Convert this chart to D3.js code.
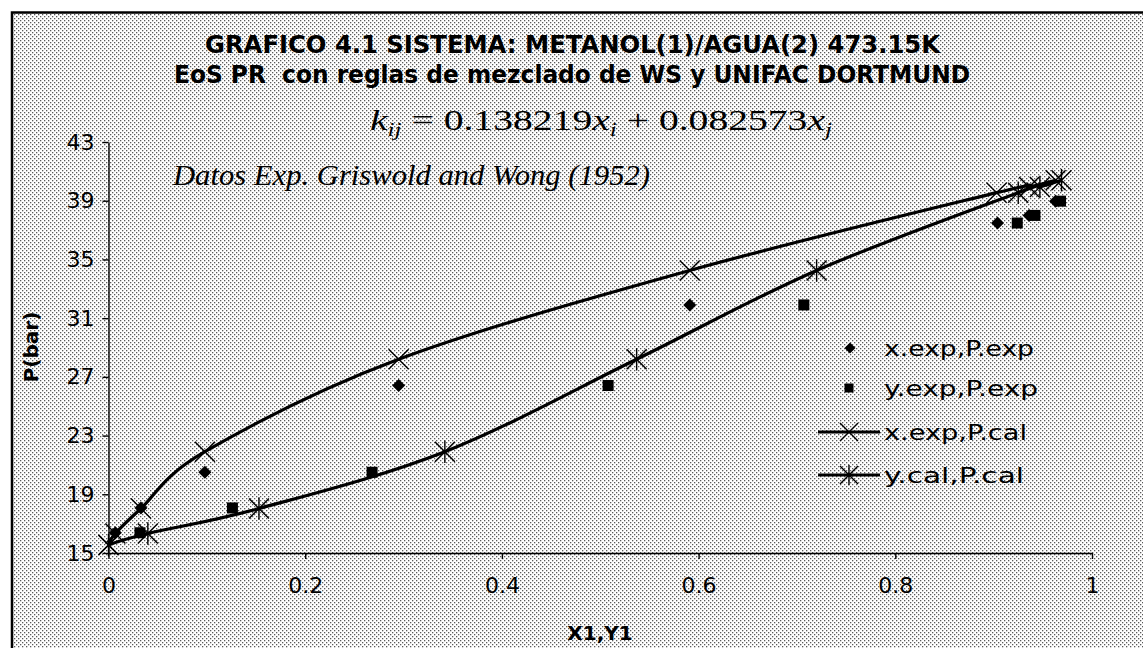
<!DOCTYPE html>
<html>
<head>
<meta charset="utf-8">
<script src="https://cdn.jsdelivr.net/npm/d3@7"></script>
<style>
  body { margin: 0; background: #fff; }
  svg text { fill: #000; white-space: pre; }
</style>
</head>
<body>
<svg id="chart" width="1143" height="648"></svg>
<script>
// Experimental points (Griswold and Wong, 1952)
const xExp = [0.007, 0.033, 0.098, 0.295, 0.591, 0.904, 0.936, 0.963];
const yExp = [0.032, 0.126, 0.268, 0.508, 0.707, 0.924, 0.942, 0.968];
const pExp = [16.38, 18.07, 20.5, 26.41, 31.9, 37.48, 38.0, 38.97];

// Calculated bubble / dew curves (PR EoS + WS + UNIFAC Dortmund)
const xCalc = [0, 0.007, 0.033, 0.098, 0.295, 0.591, 0.903, 0.936, 0.963];
const yCalc = [0, 0.040, 0.153, 0.342, 0.537, 0.720, 0.925, 0.947, 0.969];
const pCalc = [15.55, 16.33, 18.03, 21.9, 28.2, 34.25, 39.55, 39.94, 40.39];

// Axis ticks
const pTicks = [15, 19, 23, 27, 31, 35, 39, 43];
const xTicks = [0, 0.2, 0.4, 0.6, 0.8, 1];

const legendNames = ["x.exp,P.exp", "y.exp,P.exp", "x.exp,P.cal", "y.cal,P.cal"];

const svg = d3.select("#chart");

// halftone-like dotted fill for the chart area
const defs = svg.append("defs");
const pat = defs.append("pattern")
  .attr("id", "dots").attr("patternUnits", "userSpaceOnUse")
  .attr("width", 4).attr("height", 4);
pat.append("rect").attr("width", 4).attr("height", 4).attr("fill", "#fff");
pat.append("rect").attr("x", 0).attr("y", 0).attr("width", 1.3).attr("height", 1.3).attr("fill", "#5a5a5a");
pat.append("rect").attr("x", 2).attr("y", 2).attr("width", 1.3).attr("height", 1.3).attr("fill", "#5a5a5a");

svg.append("rect")
  .attr("x", 12).attr("y", 12.5).attr("width", 1140).attr("height", 640)
  .attr("fill", "url(#dots)")
  .attr("stroke", "#000").attr("stroke-width", 2.5);

const x = d3.scaleLinear().domain([0, 1]).range([108.5, 1092]);
const y = d3.scaleLinear().domain([15, 43]).range([553, 142]);

// axes
const yAxis = d3.axisLeft(y).tickValues(pTicks).tickSize(6).tickSizeOuter(0).tickPadding(8);
const xAxis = d3.axisBottom(x).tickValues(xTicks).tickFormat(d3.format("~g"))
  .tickSize(6).tickSizeOuter(0).tickPadding(18);

const gy = svg.append("g").attr("transform", `translate(${x(0)},0)`).call(yAxis);
const gx = svg.append("g").attr("transform", `translate(0,${y(15)})`).call(xAxis);
[gx, gy].forEach(g => {
  g.selectAll("path,line").attr("stroke", "#000").attr("stroke-width", 1.4);
  g.selectAll("text").attr("font-family", "'DejaVu Sans', Verdana, sans-serif")
    .attr("font-size", 22).attr("fill", "#000");
});

// marker shapes
function diamond(g, cx, cy, r) {
  g.append("path").attr("d", `M${cx},${cy - r}L${cx + r},${cy}L${cx},${cy + r}L${cx - r},${cy}Z`)
    .attr("fill", "#000");
}
function square(g, cx, cy, s) {
  g.append("rect").attr("x", cx - s / 2).attr("y", cy - s / 2).attr("width", s).attr("height", s)
    .attr("fill", "#000");
}
function cross(g, cx, cy, r) {
  g.append("path").attr("d", `M${cx - r},${cy - r}L${cx + r},${cy + r}M${cx - r},${cy + r}L${cx + r},${cy - r}`)
    .attr("stroke", "#000").attr("stroke-width", 1.4).attr("fill", "none");
}
function star(g, cx, cy, r) {
  const d = r * 0.9;
  g.append("path").attr("d",
    `M${cx - r},${cy - r}L${cx + r},${cy + r}M${cx - r},${cy + r}L${cx + r},${cy - r}M${cx},${cy - d * 1.25}L${cx},${cy + d * 1.25}`)
    .attr("stroke", "#000").attr("stroke-width", 1.4).attr("fill", "none");
}

const plot = svg.append("g");

// experimental markers
xExp.forEach((v, i) => diamond(plot, x(v), y(pExp[i]), 6.5));
yExp.forEach((v, i) => square(plot, x(v), y(pExp[i]), 11));

// smoothed calculated curves
const line = d3.line().curve(d3.curveCatmullRom.alpha(0));
const liqPts = xCalc.map((v, i) => [x(v), y(pCalc[i])]);
const vapPts = yCalc.map((v, i) => [x(v), y(pCalc[i])]);

plot.append("path").attr("d", line(liqPts)).attr("fill", "none")
  .attr("stroke", "#000").attr("stroke-width", 3.2).attr("stroke-linejoin", "round");
liqPts.forEach(p => cross(plot, p[0], p[1], 10));

plot.append("path").attr("d", line(vapPts)).attr("fill", "none")
  .attr("stroke", "#000").attr("stroke-width", 3.2).attr("stroke-linejoin", "round");
vapPts.forEach(p => star(plot, p[0], p[1], 10));

// legend
const leg = svg.append("g");
const rows = [348, 388, 432, 475];
const legWidths = [150, 154, 143, 140];
diamond(leg, 850, rows[0], 5.5);
square(leg, 849, rows[1], 9);
leg.append("line").attr("x1", 818).attr("x2", 880).attr("y1", rows[2]).attr("y2", rows[2])
  .attr("stroke", "#000").attr("stroke-width", 3);
cross(leg, 849, rows[2], 9);
leg.append("line").attr("x1", 818).attr("x2", 880).attr("y1", rows[3]).attr("y2", rows[3])
  .attr("stroke", "#000").attr("stroke-width", 3);
star(leg, 849, rows[3], 9);
legendNames.forEach((t, i) => {
  leg.append("text").attr("x", 884).attr("y", rows[i] + 8)
    .attr("font-family", "'DejaVu Sans', Verdana, sans-serif").attr("font-size", 22)
    .attr("textLength", legWidths[i]).attr("lengthAdjust", "spacingAndGlyphs")
    .text(t);
});

// titles
const bold = "'DejaVu Sans', Verdana, sans-serif";
svg.append("text").attr("x", 205).attr("y", 53)
  .attr("font-family", bold).attr("font-weight", "bold").attr("font-size", 24)
  .attr("textLength", 735).attr("lengthAdjust", "spacingAndGlyphs")
  .text("GRAFICO 4.1 SISTEMA: METANOL(1)/AGUA(2) 473.15K");
svg.append("text").attr("x", 174).attr("y", 83)
  .attr("font-family", bold).attr("font-weight", "bold").attr("font-size", 24)
  .attr("textLength", 796).attr("lengthAdjust", "spacingAndGlyphs")
  .text("EoS PR  con reglas de mezclado de WS y UNIFAC DORTMUND");

// k_ij equation
const serif = "'Liberation Serif', 'Times New Roman', serif";
const eq = svg.append("text").attr("x", 370).attr("y", 130)
  .attr("font-family", serif).attr("font-size", 30)
  .attr("textLength", 462).attr("lengthAdjust", "spacingAndGlyphs");
eq.append("tspan").attr("font-style", "italic").text("k");
eq.append("tspan").attr("font-style", "italic").attr("font-size", 19).attr("dy", 6).text("ij");
eq.append("tspan").attr("dy", -6).text(" = 0.138219");
eq.append("tspan").attr("font-style", "italic").text("x");
eq.append("tspan").attr("font-style", "italic").attr("font-size", 19).attr("dy", 6).text("i");
eq.append("tspan").attr("dy", -6).text(" + 0.082573");
eq.append("tspan").attr("font-style", "italic").text("x");
eq.append("tspan").attr("font-style", "italic").attr("font-size", 19).attr("dy", 6).text("j");

svg.append("text").attr("x", 173).attr("y", 185)
  .attr("font-family", serif).attr("font-style", "italic").attr("font-size", 30)
  .attr("textLength", 477).attr("lengthAdjust", "spacingAndGlyphs")
  .text("Datos Exp. Griswold and Wong (1952)");

// axis titles
svg.append("text").attr("x", 600).attr("y", 640).attr("text-anchor", "middle")
  .attr("font-family", bold).attr("font-weight", "bold").attr("font-size", 20)
  .text("X1,Y1");
svg.append("text").attr("transform", "translate(38,347) rotate(-90)").attr("text-anchor", "middle")
  .attr("font-family", bold).attr("font-weight", "bold").attr("font-size", 20)
  .text("P(bar)");
</script>
</body>
</html>
